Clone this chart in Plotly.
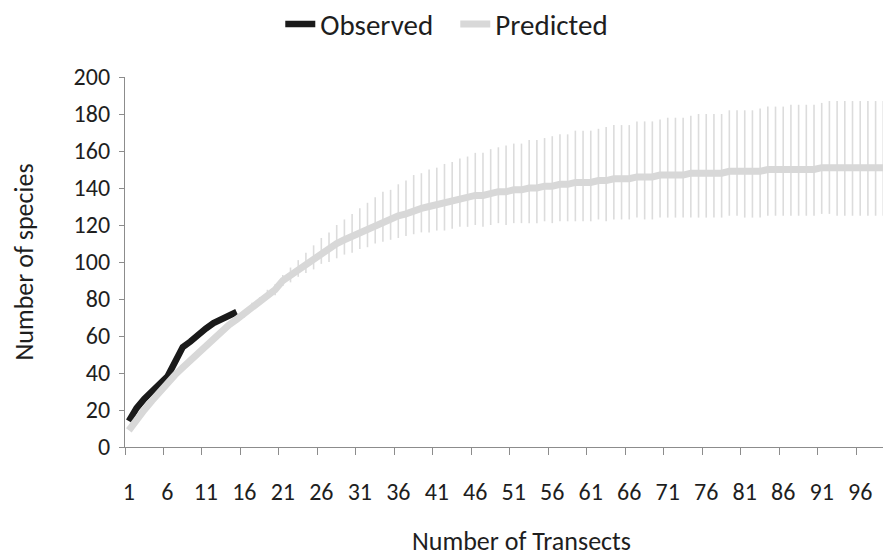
import plotly.graph_objects as go

transects = list(range(1, 101))

observed = [14, 21, 26, 30, 33, 38, 46, 54, 57, 61, 64, 67, 69, 71, 73]

predicted = [
    9, 15, 20, 25, 30, 34, 39, 43, 47, 51,
    55, 59, 62, 66, 69, 72, 76, 79, 82, 85,
    90, 93, 96, 99, 102, 105, 107, 110, 112, 114,
    116, 118, 120, 122, 123, 125, 126, 128, 129, 130,
    131, 132, 133, 134, 135, 136, 136, 137, 138, 138,
    139, 139, 140, 140, 141, 141, 142, 142, 143, 143,
    143, 144, 144, 145, 145, 145, 146, 146, 146, 147,
    147, 147, 147, 148, 148, 148, 148, 148, 149, 149,
    149, 149, 149, 150, 150, 150, 150, 150, 150, 150,
    151, 151, 151, 151, 151, 151, 151, 151, 151, 151,
]

err_plus = [
    0, 0, 0, 0, 0, 0, 0, 0, 0, 0,
    1, 1, 1, 1, 2, 2, 2, 2, 3, 3,
    3, 4, 5, 6, 7, 8, 9, 10, 11, 12,
    13, 14, 15, 16, 16, 17, 18, 19, 19, 20,
    20, 21, 21, 22, 22, 23, 23, 24, 24, 25,
    25, 25, 26, 26, 26, 27, 27, 27, 28, 28,
    28, 28, 29, 29, 29, 29, 30, 30, 30, 30,
    31, 31, 31, 31, 32, 32, 32, 32, 33, 33,
    33, 33, 34, 34, 34, 34, 35, 35, 35, 35,
    35, 36, 36, 36, 36, 36, 36, 36, 36, 36,
]

err_minus = [
    0, 0, 0, 0, 0, 0, 0, 0, 0, 0,
    1, 1, 1, 1, 1, 2, 2, 2, 2, 3,
    3, 4, 4, 5, 6, 6, 7, 8, 8, 9,
    9, 10, 10, 11, 11, 12, 12, 13, 13, 14,
    14, 15, 15, 15, 16, 16, 17, 17, 17, 18,
    18, 18, 19, 19, 19, 20, 20, 20, 21, 21,
    21, 21, 22, 22, 22, 22, 22, 23, 23, 23,
    23, 23, 23, 24, 24, 24, 24, 24, 24, 24,
    25, 25, 25, 25, 25, 25, 25, 25, 25, 25,
    25, 25, 26, 26, 26, 26, 26, 26, 26, 26,
]

x_tick_labels = [str(v) for v in range(1, 100, 5)]
y_ticks = list(range(0, 201, 20))

FONT = "Carlito, Calibri, Lato, sans-serif"
AXIS_COLOR = "#8c8c8c"
TEXT_COLOR = "#1e1e1e"

fig = go.Figure()

# error bars of the predicted curve (drawn beneath the line)
fig.add_trace(go.Scatter(
    x=transects, y=predicted, mode="markers",
    marker=dict(size=1, color="rgba(0,0,0,0)"),
    error_y=dict(type="data", array=err_plus, arrayminus=err_minus,
                 symmetric=False, color="#dcdcdc", thickness=1.6, width=0),
    showlegend=False, hoverinfo="skip",
))

fig.add_trace(go.Scatter(
    x=transects[:len(observed)], y=observed, mode="lines",
    name="Observed", line=dict(color="#1a1a1a", width=6.5),
))

fig.add_trace(go.Scatter(
    x=transects, y=predicted, mode="lines",
    name="Predicted", line=dict(color="#d8d8d8", width=7),
))

fig.update_layout(
    width=891, height=556,
    margin=dict(l=117, r=8, t=69, b=117),
    paper_bgcolor="white", plot_bgcolor="white",
    font=dict(family=FONT, size=24, color=TEXT_COLOR),
    legend=dict(orientation="h", xref="container", yref="container",
                x=0.502, xanchor="center", y=0.971, yanchor="middle",
                font=dict(size=29), itemwidth=30, tracegroupgap=0,
                entrywidth=130, entrywidthmode="pixels"),
    annotations=[dict(text="Number of Transects", xref="paper", yref="paper",
                      x=0.518, y=-0.254, xanchor="center", yanchor="middle",
                      showarrow=False, font=dict(size=26, color=TEXT_COLOR))],
)

fig.update_xaxes(
    range=[0.5, 100.0], automargin=False,
    tickmode="array", tickvals=list(range(1, 100, 5)), ticktext=x_tick_labels,
    ticks="", ticklabelstandoff=23, tickfont=dict(size=24),
    minor=dict(tickmode="array", tickvals=[v + 0.5 for v in range(0, 100, 5)],
               ticks="outside", ticklen=7, tickcolor=AXIS_COLOR, tickwidth=1),
    showline=True, linecolor=AXIS_COLOR, linewidth=1.2,
    showgrid=False, zeroline=False,
)

fig.update_yaxes(
    range=[0, 200], automargin=False,
    tickmode="array", tickvals=y_ticks, tickfont=dict(size=24),
    ticks="outside", ticklen=5, tickcolor=AXIS_COLOR, tickwidth=1,
    ticklabelstandoff=4,
    showline=True, linecolor=AXIS_COLOR, linewidth=1.2,
    showgrid=False, zeroline=False,
    title=dict(text="Number of species", standoff=33, font=dict(size=26)),
)

fig.write_html("out.html")
